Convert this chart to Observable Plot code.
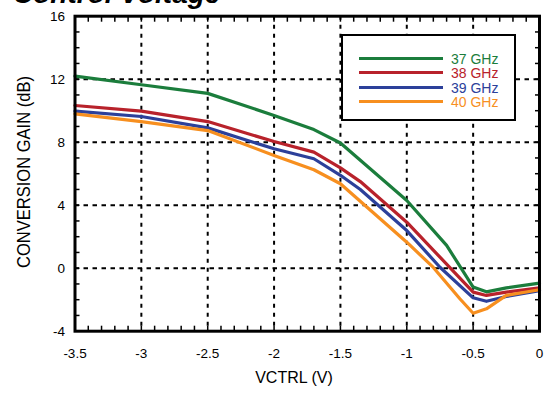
<!DOCTYPE html>
<html>
<head>
<meta charset="utf-8">
<script src="https://cdn.jsdelivr.net/npm/d3@7"></script>
<script src="https://cdn.jsdelivr.net/npm/@observablehq/plot@0.6"></script>
<style>
  html, body { margin: 0; padding: 0; background: #fff; }
  #wrap { position: relative; width: 548px; height: 393px; overflow: hidden; font-family: "Liberation Sans", Arial, Helvetica, sans-serif; }
  #wrap svg { position: absolute; left: 0; top: 0; }
  .title { position: absolute; left: 13px; top: -20px; font-size: 28px; line-height: 28px; font-weight: bold; font-style: italic; white-space: nowrap; color: #000; }
  .xlab { position: absolute; left: 294px; top: 370px; transform: translateX(-50%); font-size: 16px; line-height: 16px; white-space: nowrap; }
  .ylab { position: absolute; left: 23px; top: 171.5px; transform: translate(-50%, -50%) rotate(-90deg) scaleX(0.87); font-size: 19px; line-height: 19px; white-space: nowrap; }
  .legend { position: absolute; left: 341px; top: 34px; width: 171px; height: 83px; border: 2px solid #000; background: #fff; }
  .legend .row { position: absolute; left: 16px; height: 12px; display: flex; align-items: center; }
  .legend .sw { width: 84px; height: 0; border-top: 3.5px solid; margin-right: 8px; }
  .legend .tx { font-size: 14px; line-height: 12px; white-space: nowrap; }
</style>
</head>
<body>
<div id="wrap"></div>
<script>
// ---- data ----
const seriesNames = ["37 GHz", "38 GHz", "39 GHz", "40 GHz"];
const seriesColors = ["#1b7d3c", "#b8222b", "#2c409a", "#f78f1f"];

const vctrl37 = [-3.5, -3, -2.5, -2, -1.7, -1.5, -1, -0.7, -0.5, -0.4, -0.25, 0];
const gain37  = [12.2, 11.65, 11.1, 9.7, 8.8, 7.95, 4.3, 1.45, -1.2, -1.5, -1.25, -0.95];

const vctrl38 = [-3.5, -3, -2.5, -2, -1.7, -1.5, -1.35, -1, -0.75, -0.5, -0.4, -0.25, 0];
const gain38  = [10.33, 9.97, 9.31, 8.04, 7.37, 6.37, 5.5, 2.92, 0.7, -1.52, -1.73, -1.52, -1.25];

const vctrl39 = [-3.5, -3, -2.5, -2, -1.7, -1.5, -1.35, -1, -0.75, -0.5, -0.4, -0.25, 0];
const gain39  = [9.97, 9.63, 8.91, 7.58, 6.95, 5.9, 5.0, 2.39, 0.06, -1.88, -2.1, -1.8, -1.42];

const vctrl40 = [-3.5, -3, -2.5, -2, -1.7, -1.5, -1, -0.8, -0.6, -0.5, -0.4, -0.25, 0];
const gain40  = [9.8, 9.31, 8.74, 7.16, 6.25, 5.36, 1.65, 0.05, -1.94, -2.86, -2.58, -1.73, -1.37];

const xTicks = [-3.5, -3, -2.5, -2, -1.5, -1, -0.5, 0];
const yTicks = [-4, 0, 4, 8, 12, 16];
const xGrid = [-3, -2.5, -2, -1.5, -1, -0.5];
const yGrid = [0, 4, 8, 12];
const xMinor = d3.range(-35, 1, 1).map(d => d / 10);
const yMinor = d3.range(-4, 17, 1);

const titleText = "Control Voltage";
const xLabel = "VCTRL (V)";
const yLabel = "CONVERSION GAIN (dB)";

// ---- build table ----
const xs = [vctrl37, vctrl38, vctrl39, vctrl40];
const ys = [gain37, gain38, gain39, gain40];
const rows = [];
seriesNames.forEach((name, i) => {
  xs[i].forEach((x, j) => rows.push({series: name, v: x, g: ys[i][j]}));
});

const font = '"Liberation Sans", Arial, Helvetica, sans-serif';
const color = {domain: seriesNames, range: seriesColors};

const chart = Plot.plot({
  width: 548,
  height: 393,
  marginLeft: 74.5,
  marginRight: 9,
  marginTop: 15.7,
  marginBottom: 62.3,
  style: {fontFamily: font, background: "transparent", overflow: "visible"},
  x: {domain: [-3.5, 0]},
  y: {domain: [-4, 16]},
  color,
  marks: [
    Plot.gridX(xGrid, {stroke: "#000", strokeOpacity: 1, strokeWidth: 2, strokeDasharray: "4,5"}),
    Plot.gridY(yGrid, {stroke: "#000", strokeOpacity: 1, strokeWidth: 2, strokeDasharray: "4.5,4.5"}),
    Plot.axisX(xMinor, {anchor: "bottom", tickSize: -5, tickFormat: () => "", label: null, strokeWidth: 1.5}),
    Plot.axisX(xMinor, {anchor: "top", tickSize: -5, tickFormat: () => "", label: null, strokeWidth: 1.5}),
    Plot.axisY(yMinor, {anchor: "left", tickSize: -5, tickFormat: () => "", label: null, strokeWidth: 1.5}),
    Plot.axisY(yMinor, {anchor: "right", tickSize: -5, tickFormat: () => "", label: null, strokeWidth: 1.5}),
    Plot.axisX(xTicks, {anchor: "bottom", tickSize: 0, tickPadding: 17, tickFormat: d => String(d), label: null, fontSize: 13.5, fill: "#000"}),
    Plot.axisY(yTicks, {anchor: "left", tickSize: 0, tickPadding: 10, tickFormat: d => String(d), label: null, fontSize: 13.5, fill: "#000"}),
    Plot.line(rows, {x: "v", y: "g", z: "series", stroke: "series", strokeWidth: 3.2, curve: "linear"}),
    Plot.frame({stroke: "#000", strokeWidth: 3})
  ]
});

const wrap = document.getElementById("wrap");
wrap.appendChild(chart);

const t = document.createElement("div");
t.className = "title"; t.textContent = titleText; wrap.appendChild(t);
const xl = document.createElement("div");
xl.className = "xlab"; xl.textContent = xLabel; wrap.appendChild(xl);
const yl = document.createElement("div");
yl.className = "ylab"; yl.textContent = yLabel; wrap.appendChild(yl);

const lg = document.createElement("div");
lg.className = "legend";
const rowTops = [16.5, 30.8, 45.6, 59.6];
seriesNames.forEach((name, i) => {
  const r = document.createElement("div");
  r.className = "row";
  r.style.top = rowTops[i] + "px";
  const sw = document.createElement("div");
  sw.className = "sw"; sw.style.borderTopColor = seriesColors[i];
  const tx = document.createElement("span");
  tx.className = "tx"; tx.style.color = seriesColors[i]; tx.textContent = name;
  r.appendChild(sw); r.appendChild(tx);
  lg.appendChild(r);
});
wrap.appendChild(lg);
</script>
</body>
</html>
